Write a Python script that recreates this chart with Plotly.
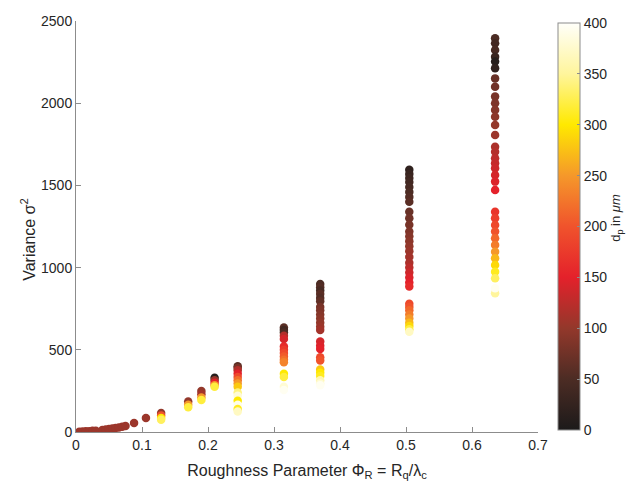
import plotly.graph_objects as go

# Roughness parameter levels (Phi_R = R_q / lambda_c)
phi_levels = [0.005, 0.010, 0.015, 0.020, 0.025, 0.030, 0.040, 0.045,
              0.050, 0.055, 0.060, 0.065, 0.070, 0.075, 0.088, 0.106,
              0.129, 0.170, 0.190, 0.210, 0.245, 0.315, 0.370, 0.505, 0.635]

# Variance sigma^2 at each level, one entry per particle diameter
variance_by_level = [
    [2], [3], [4], [5], [7], [8], [12], [15],
    [18], [21], [25], [28], [32], [36], [55], [85],
    [115, 100, 85, 75],
    [185, 165, 150],
    [250, 230, 210, 195],
    [330, 315, 300, 285, 275],
    [400, 390, 375, 355, 335, 315, 295, 275, 240, 220, 190, 165, 140, 125],
    [635, 620, 605, 585, 565, 520, 500, 480, 460, 440, 425, 355, 335, 275, 255],
    [900, 880, 860, 840, 815, 795, 760, 740, 715, 690, 665, 640, 620,
     550, 525, 505, 455, 435, 380, 360, 340, 315, 295, 285],
    [1595, 1570, 1545, 1520, 1490, 1460, 1430, 1400, 1340, 1300, 1260,
     1220, 1190, 1160, 1130, 1100, 1065, 1030, 1000, 970, 940, 910, 885,
     780, 760, 740, 715, 690, 665, 645, 625, 610],
    [2395, 2364, 2324, 2283, 2253, 2212, 2151, 2100, 2040, 1999, 1959,
     1918, 1867, 1806, 1735, 1705, 1665, 1635, 1604, 1563, 1523, 1472,
     1340, 1300, 1259, 1219, 1178, 1138, 1097, 1057, 1016, 975, 935, 844, 874],
]

# Particle diameter d_p in micrometres for each point above
dp_by_level = [
    [105], [105], [105], [105], [105], [105], [105], [105],
    [105], [105], [105], [105], [105], [105], [105], [105],
    [100, 200, 300, 330],
    [100, 250, 320],
    [100, 110, 250, 320],
    [10, 100, 150, 250, 320],
    [60, 80, 120, 150, 190, 220, 250, 280, 340, 380, 300, 390, 310, 370],
    [60, 40, 50, 120, 140, 160, 175, 190, 205, 220, 235, 300, 320, 380, 395],
    [50, 55, 45, 60, 55, 65, 80, 85, 90, 95, 100, 105, 110,
     140, 145, 150, 190, 200, 280, 300, 310, 360, 380, 395],
    [20, 30, 35, 40, 45, 50, 55, 60, 70, 75, 80, 85, 90, 95, 100, 105,
     110, 115, 125, 135, 145, 150, 160, 190, 200, 215, 230, 250, 270,
     290, 320, 370],
    [50, 40, 45, 30, 10, 20, 70, 75, 80, 85, 90, 95, 100, 105, 115, 120,
     125, 130, 135, 140, 145, 150, 170, 180, 190, 200, 215, 230, 250, 270,
     290, 310, 330, 350, 395],
]

phi, variance, dp = [], [], []
for p, vs, ds in zip(phi_levels, variance_by_level, dp_by_level):
    for v, d in zip(vs, ds):
        phi.append(p)
        variance.append(v)
        dp.append(d)

# Black -> brown -> red -> orange -> yellow -> white
heat_scale = [
    [0.000, "#1c1a1a"],
    [0.125, "#4c2c24"],
    [0.250, "#93382b"],
    [0.375, "#e4212b"],
    [0.500, "#f0532c"],
    [0.625, "#f5982a"],
    [0.750, "#ffe900"],
    [0.875, "#fff59c"],
    [1.000, "#fffffa"],
]

axis_grey = "#8c8c8c"
text_grey = "#262626"
font_family = "Liberation Sans, Arial, sans-serif"

fig = go.Figure(go.Scatter(
    x=phi, y=variance, mode="markers",
    marker=dict(
        size=8.5, color=dp, cmin=0, cmax=400, colorscale=heat_scale,
        line=dict(width=0),
        colorbar=dict(
            x=1.043, xanchor="left", y=0.5, yanchor="middle",
            len=0.99, lenmode="fraction", thickness=22,
            xpad=0, ypad=0,
            outlinewidth=1, outlinecolor=axis_grey,
            tickmode="array", tickvals=list(range(0, 401, 50)),
            ticks="inside", ticklen=3, tickcolor=axis_grey,
            tickfont=dict(size=14, color=text_grey, family=font_family),
        ),
    ),
    showlegend=False,
))

fig.update_layout(
    width=629, height=481,
    margin=dict(l=76, r=91, t=21, b=49),
    paper_bgcolor="white", plot_bgcolor="white",
    font=dict(family=font_family, color=text_grey),
    annotations=[
        dict(text="d<sub>p</sub> in <i>μm</i>", textangle=-90,
             xref="paper", yref="paper", x=1.170, y=0.52,
             xanchor="center", yanchor="middle", showarrow=False,
             font=dict(size=13, color=text_grey, family=font_family)),
        dict(text="Variance σ<sup>2</sup>", textangle=-90,
             xref="paper", yref="paper", x=-0.104, y=0.47,
             xanchor="center", yanchor="middle", showarrow=False,
             font=dict(size=16, color=text_grey, family=font_family)),
    ],
)
fig.update_xaxes(
    range=[0, 0.7], tickmode="array",
    tickvals=[0, 0.1, 0.2, 0.3, 0.4, 0.5, 0.6, 0.7],
    ticktext=["0", "0.1", "0.2", "0.3", "0.4", "0.5", "0.6", "0.7"],
    showline=True, linecolor=axis_grey, linewidth=1,
    ticks="inside", ticklen=5, tickcolor=axis_grey,
    showgrid=False, zeroline=False, automargin=False,
    tickfont=dict(size=14, color=text_grey),
    title=dict(text="Roughness Parameter Φ<sub>R</sub> = R<sub>q</sub>/λ<sub>c</sub>",
               font=dict(size=16, color=text_grey)),
)
fig.update_yaxes(
    range=[0, 2500], tickmode="array",
    tickvals=[0, 500, 1000, 1500, 2000, 2500],
    showline=True, linecolor=axis_grey, linewidth=1,
    ticks="inside", ticklen=5, tickcolor=axis_grey,
    showgrid=False, zeroline=False, automargin=False,
    tickfont=dict(size=14, color=text_grey),
)

fig.write_html("out.html")
